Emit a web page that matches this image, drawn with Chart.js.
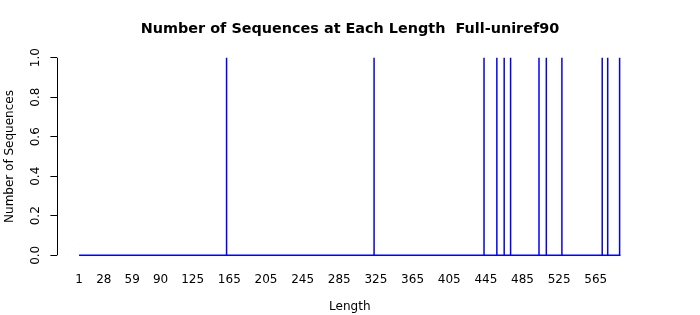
<!DOCTYPE html>
<html>
<head>
<meta charset="utf-8">
<title>Number of Sequences at Each Length</title>
<script src="https://cdn.jsdelivr.net/npm/chart.js@4/dist/chart.umd.min.js"></script>
<style>
    html, body { margin: 0; padding: 0; background: #fff; }
    #lengthChart { display: block; }
</style>
</head>
<body>
<canvas id="lengthChart" width="700" height="315"></canvas>
<script>
// Data
const firstLength = 1;
const lastLength = 592;
const spikeLengths = [162, 323, 443, 457, 465, 472, 503, 511, 528, 572, 578, 591];
const spikeCounts = [1, 1, 1, 1, 1, 1, 1, 1, 1, 1, 1, 1];
const xTickValues = [1, 28, 59, 90, 125, 165, 205, 245, 285, 325, 365, 405, 445, 485, 525, 565];
const yTickValues = [0, 0.2, 0.4, 0.6, 0.8, 1.0];

// R-style padding of 4% around the data range
const xPad = (lastLength - firstLength) * 0.04;
const yPad = 0.04;

// Build the line: flat at 0, straight up to the count at each spike length and back
const points = [{ x: firstLength, y: 0 }];
spikeLengths.forEach((len, i) => {
    points.push({ x: len, y: 0 });
    points.push({ x: len, y: spikeCounts[i] });
    points.push({ x: len, y: 0 });
});
points.push({ x: lastLength, y: 0 });

Chart.defaults.font.family = 'DejaVu Sans';
Chart.defaults.color = '#000';

// y axis line only spans the tick range, like base R
const axisLinePlugin = {
    id: 'axisLine',
    afterDraw(chart) {
        const ctx = chart.ctx;
        const y = chart.scales.y;
        const x = Math.round(chart.chartArea.left) + 0.5;
        ctx.save();
        ctx.strokeStyle = '#000';
        ctx.lineWidth = 1;
        ctx.beginPath();
        ctx.moveTo(x, y.getPixelForValue(yTickValues[0]));
        ctx.lineTo(x, y.getPixelForValue(yTickValues[yTickValues.length - 1]));
        ctx.stroke();
        ctx.restore();
    }
};

const ctx = document.getElementById('lengthChart').getContext('2d');
new Chart(ctx, {
    type: 'line',
    data: {
        datasets: [{
            data: points,
            borderColor: '#0000ff',
            borderWidth: 1.5,
            pointRadius: 0,
            tension: 0,
            fill: false
        }]
    },
    options: {
        responsive: false,
        animation: false,
        devicePixelRatio: 1,
        layout: { padding: 0 },
        plugins: {
            legend: { display: false },
            tooltip: { enabled: false },
            title: {
                display: true,
                text: 'Number of Sequences at Each Length  Full-uniref90',
                font: { size: 14.4, weight: 'bold' },
                padding: { top: 21, bottom: 11.5 }
            }
        },
        scales: {
            x: {
                type: 'linear',
                min: firstLength - xPad,
                max: lastLength + xPad,
                afterBuildTicks: function (scale) {
                    scale.ticks = xTickValues.map(v => ({ value: v }));
                },
                afterFit: function (scale) {
                    scale.height = 51.8;
                },
                grid: { display: false, drawTicks: false },
                border: { display: false },
                ticks: {
                    autoSkip: false,
                    maxRotation: 0,
                    padding: 9,
                    font: { size: 12 },
                    callback: function (value) { return String(value); }
                },
                title: {
                    display: true,
                    text: 'Length',
                    font: { size: 12 },
                    padding: { top: 0, bottom: 1 }
                }
            },
            y: {
                min: -yPad,
                max: 1 + yPad,
                afterBuildTicks: function (scale) {
                    scale.ticks = yTickValues.map(v => ({ value: v }));
                },
                afterFit: function (scale) {
                    scale.width = 57.4;
                },
                grid: {
                    drawOnChartArea: false,
                    drawTicks: true,
                    tickLength: 7,
                    color: '#000',
                    lineWidth: 1
                },
                border: { display: false },
                ticks: {
                    minRotation: 90,
                    maxRotation: 90,
                    crossAlign: 'center',
                    padding: 5,
                    font: { size: 12 },
                    callback: function (value) { return value.toFixed(1); }
                },
                title: {
                    display: true,
                    text: 'Number of Sequences',
                    font: { size: 12 },
                    padding: { top: 3, bottom: 0 }
                }
            },
            // empty right margin so the title stays centred on the page
            yRight: {
                position: 'right',
                min: -yPad,
                max: 1 + yPad,
                afterFit: function (scale) {
                    scale.width = 57.8;
                },
                grid: { display: false, drawTicks: false },
                border: { display: false },
                ticks: { display: false }
            }
        }
    },
    plugins: [axisLinePlugin]
});
</script>
</body>
</html>
